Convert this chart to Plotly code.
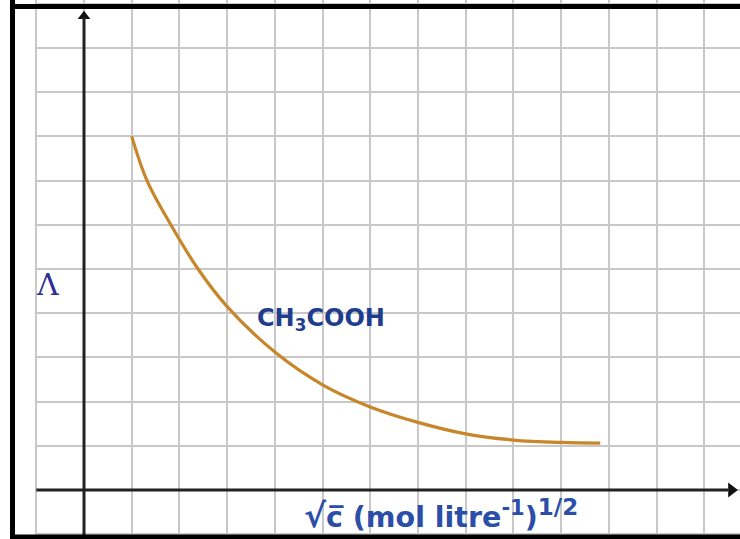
import plotly.graph_objects as go

# Data (grid units, origin at axes intersection)
curve_x = [1.0, 1.32, 1.82, 2.39, 3.0, 4.0, 5.0, 6.0, 7.0, 8.0, 9.0, 10.0, 10.82]
curve_y = [8.0, 7.0, 6.0, 5.0, 4.15, 3.12, 2.38, 1.88, 1.53, 1.27, 1.13, 1.075, 1.06]
curve_label = "CH<sub>3</sub>COOH"
y_label = "Λ"
x_label = ('<span style="font-size:33px">√</span>c\u0305 (mol litre<sup><span style="font-size:21px">-1</span></sup>)'
           '<sup><span style="font-size:23px">1/2</span></sup>')

X_RANGE = [-1.761, 13.75]
Y_RANGE = [-1.109, 11.086]

fig = go.Figure()

# curve
fig.add_trace(go.Scatter(
    x=curve_x, y=curve_y, mode="lines",
    line=dict(color="#C8862A", width=3.2, shape="spline", smoothing=1.0),
    hoverinfo="skip", showlegend=False,
))

# axis arrowheads
fig.add_trace(go.Scatter(
    x=[0], y=[10.72], mode="markers",
    marker=dict(symbol="triangle-up", size=11, color="#111111"),
    hoverinfo="skip", showlegend=False,
))
fig.add_trace(go.Scatter(
    x=[13.57], y=[0], mode="markers",
    marker=dict(symbol="triangle-right", size=13, color="#111111"),
    hoverinfo="skip", showlegend=False,
))

shapes = [
    # white margin strip left of the first grid column
    dict(type="rect", xref="x", yref="y", x0=X_RANGE[0], x1=-1.03, y0=Y_RANGE[0], y1=Y_RANGE[1],
         fillcolor="white", line=dict(width=0), layer="between"),
    # y axis
    dict(type="line", xref="x", yref="y", x0=0, x1=0, y0=Y_RANGE[0], y1=10.7,
         line=dict(color="#222222", width=3)),
    # x axis
    dict(type="line", xref="x", yref="y", x0=-1, x1=13.5, y0=0, y1=0,
         line=dict(color="#222222", width=3)),
    # frame: left, top, bottom
    dict(type="line", xref="paper", yref="paper", x0=0.0169, x1=0.0169, y0=0, y1=1,
         line=dict(color="#000000", width=5)),
    dict(type="line", xref="paper", yref="paper", x0=0.0135, x1=1, y0=0.9879, y1=0.9879,
         line=dict(color="#000000", width=5)),
    dict(type="line", xref="paper", yref="paper", x0=0.0135, x1=1, y0=0.0037, y1=0.0037,
         line=dict(color="#000000", width=5)),
]

annotations = [
    dict(x=-0.755, y=4.66, xref="x", yref="y", text=y_label, showarrow=False,
         font=dict(family="DejaVu Serif, serif", size=30, color="#2E2E96")),
    dict(x=4.97, y=3.85, xref="x", yref="y", text=curve_label, showarrow=False,
         font=dict(family="DejaVu Sans, Verdana, sans-serif", size=24, color="#1F3D8F", weight="bold")),
    dict(x=7.48, y=-0.56, xref="x", yref="y", text=x_label, showarrow=False,
         font=dict(family="DejaVu Sans, Verdana, sans-serif", size=28.5, color="#2B4EA8", weight="bold")),
]

fig.update_layout(
    width=740, height=539,
    margin=dict(l=0, r=0, t=0, b=0),
    paper_bgcolor="white", plot_bgcolor="white",
    shapes=shapes, annotations=annotations,
    xaxis=dict(range=X_RANGE, tick0=0, dtick=1, showgrid=True, gridcolor="#C8C8C8", gridwidth=2,
               showticklabels=False, zeroline=False, showline=False, ticks="", fixedrange=True),
    yaxis=dict(range=Y_RANGE, tick0=0, dtick=1, showgrid=True, gridcolor="#C8C8C8", gridwidth=2,
               showticklabels=False, zeroline=False, showline=False, ticks="", fixedrange=True),
)

fig.write_html("out.html", config={"displayModeBar": False})
